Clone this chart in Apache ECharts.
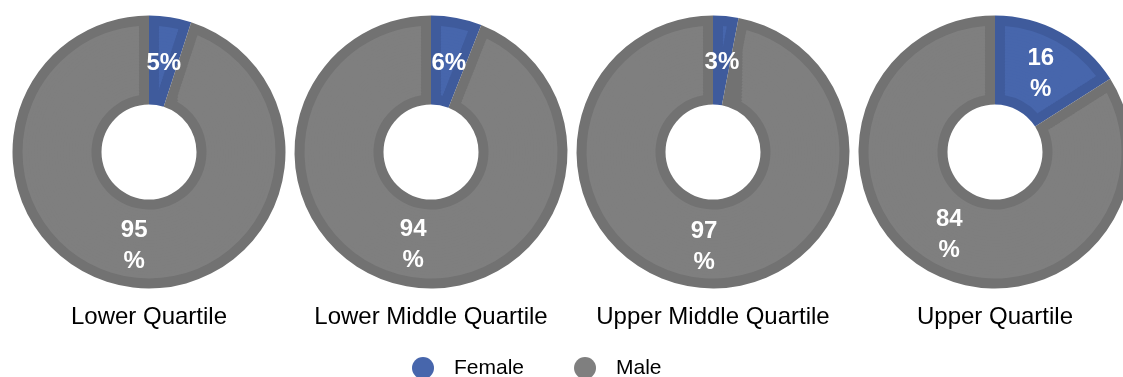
<!DOCTYPE html>
<html>
<head>
<meta charset="utf-8">
<script src="https://cdn.jsdelivr.net/npm/echarts@6/dist/echarts.min.js"></script>
<style>
html,body{margin:0;padding:0;background:#fff;}
#chart{width:1123px;height:377px;}
</style>
</head>
<body>
<div id="chart"></div>
<script>
const categories = ['Lower Quartile', 'Lower Middle Quartile', 'Upper Middle Quartile', 'Upper Quartile'];
const seriesNames = ['Female', 'Male'];
const femaleValues = [5, 6, 3, 16];
const maleValues = [95, 94, 97, 84];

const FONT = '"Liberation Sans", Arial, sans-serif';
const centersX = [149, 431, 713, 995];
const centerY = 152;
const fillColors = ['#4766AC', '#7F7F7F'];
const borderColors = ['#3F5B9C', '#727272'];
const OUTER = 136.5, INNER = 47.5, EDGE = 10;
const RING_COUNT = 24;

const chart = echarts.init(document.getElementById('chart'), null, {renderer: 'canvas'});

function sliceData(i, colors) {
  return [
    {name: seriesNames[0], value: femaleValues[i], itemStyle: {color: colors[0], borderWidth: 0}},
    {name: seriesNames[1], value: maleValues[i], itemStyle: {color: colors[1], borderWidth: 0}}
  ];
}

const series = [];
categories.forEach((cat, i) => {
  const base = {
    type: 'pie',
    name: cat,
    center: [centersX[i], centerY],
    startAngle: 90,
    clockwise: true,
    avoidLabelOverlap: false,
    silent: true,
    animation: false,
    emphasis: {disabled: true},
    labelLine: {show: false},
    label: {show: false}
  };
  // darker edge of every slice
  series.push(Object.assign({}, base, {
    radius: [INNER, OUTER],
    data: sliceData(i, borderColors)
  }));
  // main fill of every slice, kept EDGE px away from the slice edges
  const r0 = INNER + EDGE, r1 = OUTER - EDGE;
  const step = (r1 - r0) / RING_COUNT;
  for (let k = 0; k < RING_COUNT; k++) {
    const a = r0 + k * step, b = r0 + (k + 1) * step;
    const mid = (a + b) / 2;
    const pad = 2 * Math.asin(EDGE / mid) * 180 / Math.PI;
    series.push(Object.assign({}, base, {
      radius: [Math.max(r0, a - 0.6), Math.min(r1, b + 0.6)],
      padAngle: pad,
      data: sliceData(i, fillColors)
    }));
  }
  // percentage labels
  series.push(Object.assign({}, base, {
    radius: [r0, r1],
    label: {
      show: true,
      position: 'inside',
      color: '#ffffff',
      fontFamily: FONT,
      fontWeight: 'bold',
      fontSize: 24,
      lineHeight: 31,
      formatter: p => p.value >= 10 ? p.value + '\n%' : p.value + '%'
    },
    labelLayout: p => (p.dataIndex === 0 ? {dy: 5} : {dy: 0}),
    data: sliceData(i, ['rgba(0,0,0,0)', 'rgba(0,0,0,0)'])
  }));
});

const titles = categories.map((cat, i) => ({
  text: cat,
  left: centersX[i],
  top: 305,
  textAlign: 'center',
  padding: 0,
  textStyle: {fontFamily: FONT, fontWeight: 'normal', fontSize: 24, color: '#000000'}
}));

chart.setOption({
  animation: false,
  color: fillColors,
  title: titles,
  legend: {
    data: seriesNames.map((n, k) => ({name: n, itemStyle: {color: fillColors[k], borderWidth: 0}})),
    left: 412,
    top: 357,
    padding: 0,
    icon: 'circle',
    itemWidth: 22,
    itemHeight: 22,
    itemGap: 50,
    selectedMode: false,
    textStyle: {fontFamily: FONT, fontSize: 21, color: '#000000', padding: [0, 0, 0, 15]}
  },
  series: series
});
</script>
</body>
</html>
